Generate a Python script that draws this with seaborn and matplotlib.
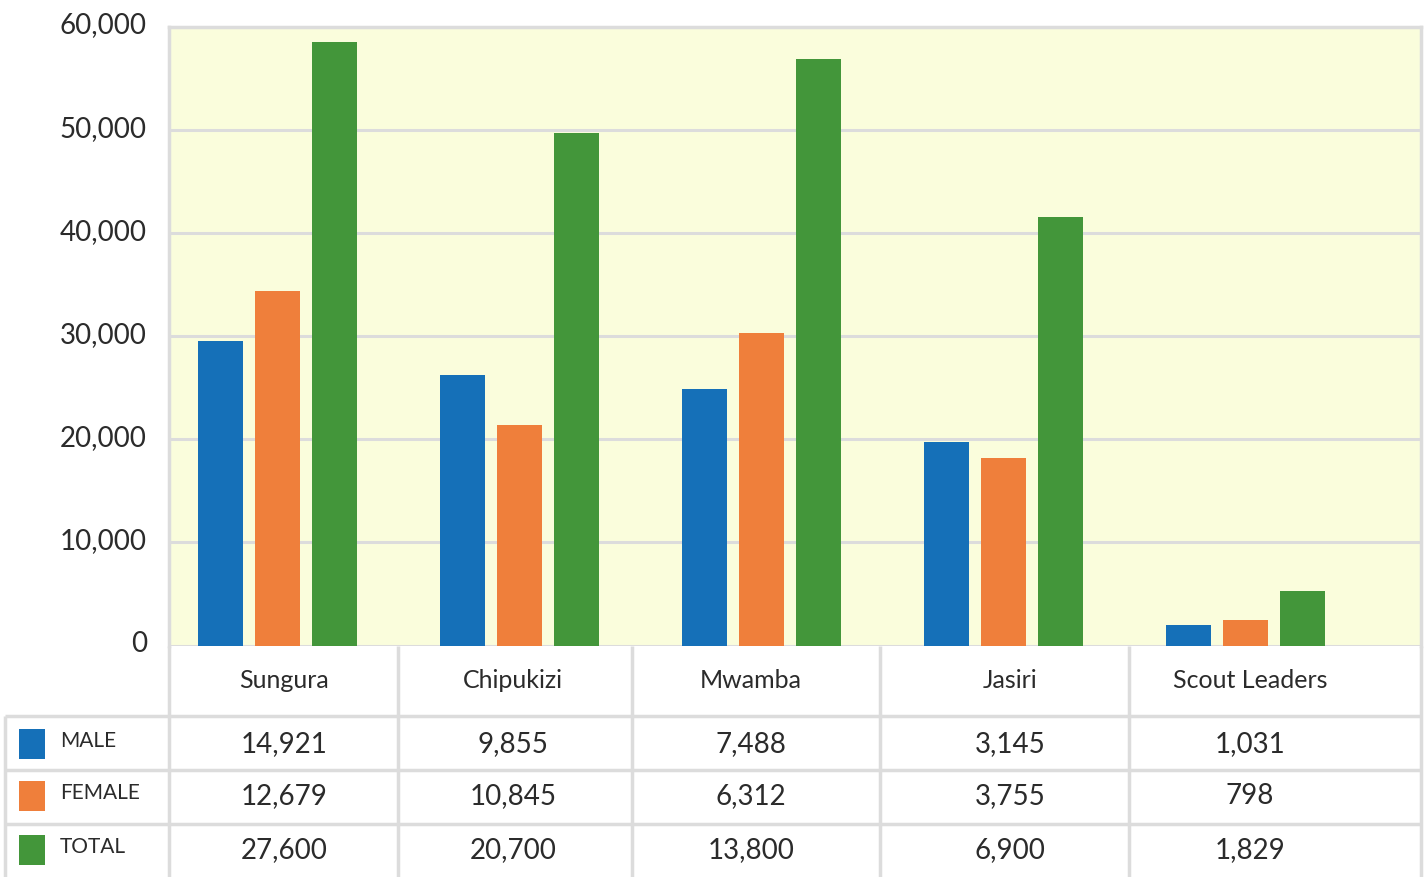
import pandas as pd
import matplotlib.pyplot as plt
import matplotlib.transforms as mtransforms
import seaborn as sns

# values (they don't match the table below, kept as drawn)
groups = ['Sungura', 'Chipukizi', 'Mwamba', 'Jasiri', 'Scout Leaders']
series = ['MALE', 'FEMALE', 'TOTAL']
male_bars = [29500, 26200, 24900, 19700, 1950]
female_bars = [34400, 21400, 30300, 18200, 2500]
total_bars = [58500, 49700, 56900, 41600, 5300]

# table text
male_tab = ['14,921', '9,855', '7,488', '3,145', '1,031']
female_tab = ['12,679', '10,845', '6,312', '3,755', '798']
total_tab = ['27,600', '20,700', '13,800', '6,900', '1,829']

colors = ['#1570b8', '#ef7f3b', '#43963a']
grid_c = '#dcdcdc'
text_c = '#2b2b2b'

rows = []
for s, vals in zip(series, [male_bars, female_bars, total_bars]):
    for g, v in zip(groups, vals):
        rows.append({'group': g, 'series': s, 'value': v})
df = pd.DataFrame(rows)

sns.set_style("white")
plt.rcParams['font.family'] = ['Lato', 'DejaVu Sans']

W, H = 1428, 877
fig = plt.figure(figsize=(W / 100, H / 100), dpi=100)

# pixel layout of the plot area
left, right, top, bottom = 169, 1421, 27, 645.5
ax = fig.add_axes([left / W, 1 - bottom / H, (right - left) / W, (bottom - top) / H])
ax.set_facecolor('#fafddc')

sns.barplot(data=df, x='group', y='value', hue='series', palette=colors,
            width=0.708, gap=0.21, saturation=1, legend=False, ax=ax,
            edgecolor='none', linewidth=0)

ax.set_ylim(0, 60000)
ax.set_xlim(-0.448, 4.725)
ax.set_yticks(range(0, 60001, 10000))
ax.set_yticklabels([f'{v:,}' for v in range(0, 60001, 10000)])
ax.tick_params(axis='y', length=0, pad=16, labelsize=20, labelcolor=text_c)
# labels sit a little above their grid lines in the original
shift = mtransforms.ScaledTranslation(0, 4 / 100, fig.dpi_scale_trans)
for lab in ax.get_yticklabels():
    lab.set_transform(lab.get_transform() + shift)
ax.set_xticks([])
ax.set_xlabel('')
ax.set_ylabel('')
ax.yaxis.grid(True, color=grid_c, linewidth=2.2)
ax.set_axisbelow(True)
for side in ['top', 'left', 'right']:
    ax.spines[side].set_color(grid_c)
    ax.spines[side].set_linewidth(2.5)
ax.spines['bottom'].set_visible(False)

# table drawn in pixel coordinates on an overlay axes
tab = fig.add_axes([0, 0, 1, 1], facecolor='none')
tab.set_xlim(0, W)
tab.set_ylim(H, 0)
tab.axis('off')

col_edges = [169, 398, 632, 880, 1129, 1421]
row_lines = [716, 770, 824]
lw = 2.5
for x in col_edges:
    tab.plot([x, x], [bottom, H], color=grid_c, lw=lw, solid_capstyle='butt')
tab.plot([5, 5], [716, H], color=grid_c, lw=lw, solid_capstyle='butt')
for y in row_lines:
    tab.plot([5, 1421], [y, y], color=grid_c, lw=lw, solid_capstyle='butt')

text_x = [284, 513, 751, 1010, 1250]
for cx, g in zip(text_x, groups):
    tab.text(cx, 680, g, ha='center', va='center', fontsize=18, color=text_c)

row_y = [743, 795, 849]
for y, s, c, vals in zip(row_y, series, colors, [male_tab, female_tab, total_tab]):
    tab.add_patch(plt.Rectangle((19, y - 14), 26, 30, color=c, lw=0))
    tab.text(60, y - 2, s, ha='left', va='center', fontsize=15, color=text_c)
    for cx, v in zip(text_x, vals):
        tab.text(cx, y + 1, v, ha='center', va='center', fontsize=20, color=text_c)

fig.savefig('out.png', dpi=100)
